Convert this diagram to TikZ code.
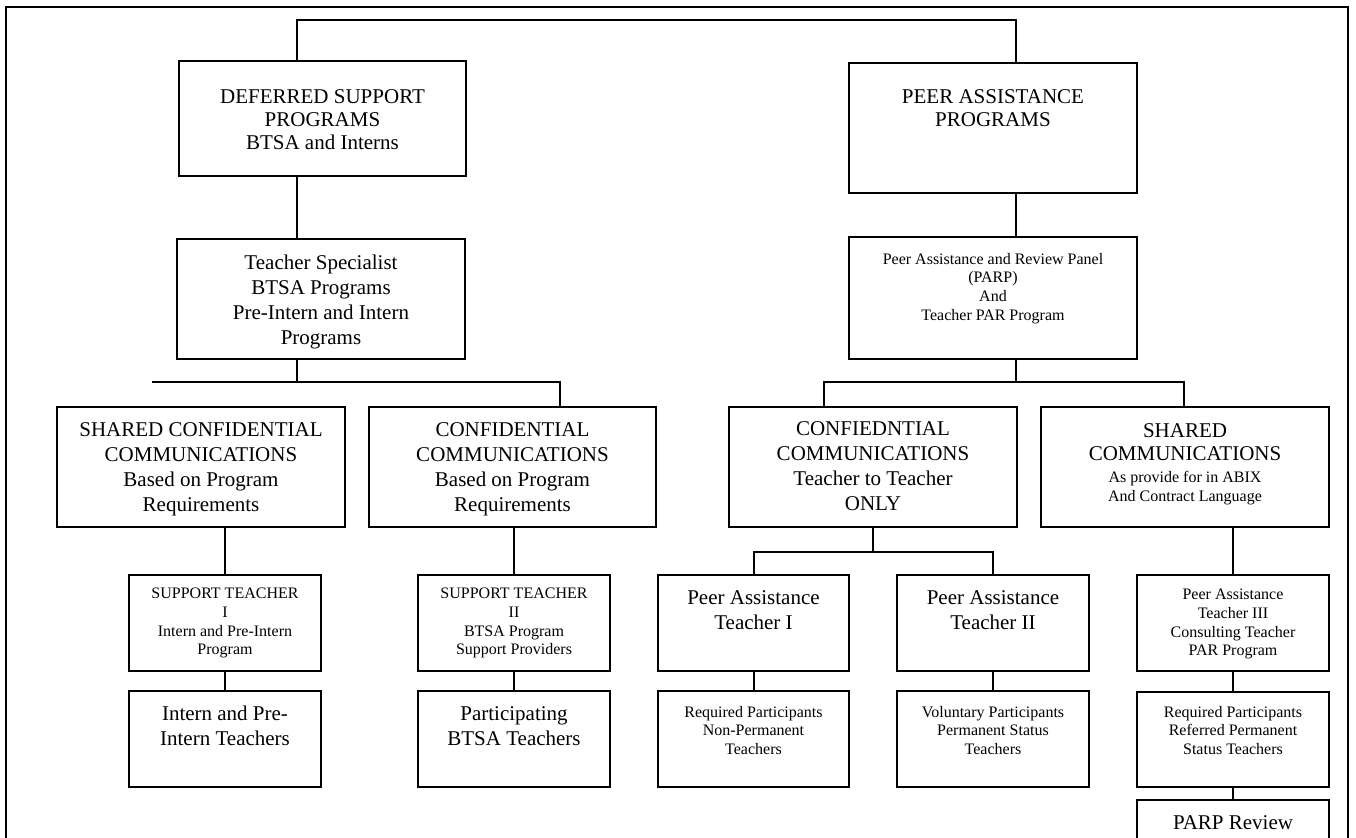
\documentclass[tikz,border=0pt]{standalone}
\usepackage{fontspec}
\setmainfont{Liberation Serif}
\usetikzlibrary{positioning}

\newcommand{\smalltext}{\fontsize{8pt}{9.4pt}\selectfont}

\begin{document}
\begin{tikzpicture}[
  x=0.5pt, y=-0.5pt,
  bigtext/.style={font=\fontsize{10.5pt}{12.5pt}\selectfont},
  headtext/.style={font=\fontsize{10.5pt}{11.5pt}\selectfont},
  smalltxt/.style={font=\smalltext},
  orgbox/.style={
    draw=black,
    line width=1pt,
    inner sep=0pt,
    anchor=north west,
    minimum width=144pt,
    minimum height=60pt
  },
  smallbox/.style={orgbox, minimum width=96pt, minimum height=48pt},
  caption/.style={align=center, inner sep=0pt},
  link/.style={draw=black, line width=1pt},
  frame/.style={draw=black, line width=1.1pt}
]

\useasboundingbox (0,0) rectangle (1356,837);
\clip (0,0) rectangle (1356,837);

\draw[frame] (6,900) |- (1348,7) -- (1348,900);

% top level
\node[orgbox, minimum width=143.5pt, minimum height=57.5pt] (deferred) at (178,60) {};
\node[caption, headtext, below=14.5pt of deferred.north] (deferred-txt)
  {DEFERRED SUPPORT\\PROGRAMS\\BTSA and Interns};

\node[orgbox, minimum height=65pt] (peer) at (848,62) {};
\node[caption, headtext, below=13.5pt of peer.north] (peer-txt)
  {PEER ASSISTANCE\\PROGRAMS};

% second level
\node[orgbox] (spec) at (176,238) {};
\node[caption, bigtext, below=8.5pt of spec.north] (spec-txt)
  {Teacher Specialist\\BTSA Programs\\Pre-Intern and Intern\\Programs};

\node[orgbox, minimum height=61pt] (parp) at (848,236) {};
\node[caption, smalltxt, below=8.25pt of parp.north] (parp-txt)
  {Peer Assistance and Review Panel\\(PARP)\\And\\Teacher PAR Program};

% communications
\node[orgbox] (share1) at (56,406) {};
\node[caption, bigtext, below=8pt of share1.north] (share1-txt)
  {SHARED CONFIDENTIAL\\COMMUNICATIONS\\Based on Program\\Requirements};

\node[orgbox, minimum width=143.5pt] (conf1) at (368,406) {};
\node[caption, bigtext, below=8pt of conf1.north] (conf1-txt)
  {CONFIDENTIAL\\COMMUNICATIONS\\Based on Program\\Requirements};

\node[orgbox] (conf2) at (728,406) {};
\node[caption, bigtext, below=7.5pt of conf2.north] (conf2-txt)
  {CONFIEDNTIAL\\COMMUNICATIONS\\Teacher to Teacher\\ONLY};

\node[orgbox] (share2) at (1040,406) {};
\node[caption, bigtext, below=8.5pt of share2.north] (share2-txt)
  {SHARED\\[-1pt]COMMUNICATIONS\\[-1.5pt]\smalltext As provide for in ABIX\\[-3pt]\smalltext And Contract Language};

% teachers
\node[smallbox] (st1) at (128,574) {};
\node[caption, smalltxt, below=6.75pt of st1.north] (st1-txt)
  {SUPPORT TEACHER\\I\\Intern and Pre-Intern\\Program};

\node[smallbox] (st2) at (417,574) {};
\node[caption, smalltxt, below=6.75pt of st2.north] (st2-txt)
  {SUPPORT TEACHER\\II\\BTSA Program\\Support Providers};

\node[smallbox, minimum width=95.5pt] (pa1) at (657,574) {};
\node[caption, bigtext, below=8pt of pa1.north] (pa1-txt)
  {Peer Assistance\\Teacher I};

\node[smallbox] (pa2) at (896,574) {};
\node[caption, bigtext, below=8pt of pa2.north] (pa2-txt)
  {Peer Assistance\\Teacher II};

\node[smallbox] (pa3) at (1136,574) {};
\node[caption, smalltxt, below=7.25pt of pa3.north] (pa3-txt)
  {Peer Assistance\\Teacher III\\Consulting Teacher\\PAR Program};

% participants
\node[smallbox] (intern) at (128,690) {};
\node[caption, bigtext, below=8pt of intern.north] (intern-txt)
  {Intern and Pre-\\Intern Teachers};

\node[smallbox] (btsa) at (417,690) {};
\node[caption, bigtext, below=8pt of btsa.north] (btsa-txt)
  {Participating\\BTSA Teachers};

\node[smallbox, minimum width=95.5pt] (req1) at (657,690) {};
\node[caption, smalltxt, below=7.75pt of req1.north] (req1-txt)
  {Required Participants\\Non-Permanent\\Teachers};

\node[smallbox] (vol) at (896,690) {};
\node[caption, smalltxt, below=7.75pt of vol.north] (vol-txt)
  {Voluntary Participants\\Permanent Status\\Teachers};

\node[smallbox, minimum height=47.5pt] (req3) at (1136,691) {};
\node[caption, smalltxt, below=7.25pt of req3.north] (req3-txt)
  {Required Participants\\Referred Permanent\\Status Teachers};

\node[smallbox] (review) at (1136,799) {};
\node[caption, bigtext, below=8pt of review.north] (review-txt)
  {PARP Review};

% junctions
\coordinate (spine) at (0,20);
\coordinate (ltrunk) at (297,0);
\coordinate (rtrunk) at (1016,0);
\coordinate (lbar-w) at (152,382);
\coordinate (lbar-e) at (560,382);
\coordinate (rbar-w) at (824,382);
\coordinate (rbar-e) at (1184,382);

\draw[link] (deferred.north -| ltrunk) -- (spine -| ltrunk) -- (spine -| rtrunk) -- (peer.north -| rtrunk);
\draw[link] (deferred.south -| ltrunk) -- (spec.north -| ltrunk);
\draw[link] (peer.south -| rtrunk) -- (parp.north -| rtrunk);

\draw[link] (spec.south -| ltrunk) -- (lbar-w -| ltrunk);
\draw[link] (lbar-w) -- (lbar-e) -- (conf1.north -| lbar-e);
\draw[link] (parp.south -| rtrunk) -- (rbar-w -| rtrunk);
\draw[link] (conf2.north -| rbar-w) -- (rbar-w) -- (rbar-e) -- (share2.north -| rbar-e);

\draw[link] (st1.north |- share1.south) -- (st1.north);
\draw[link] (st2.north |- conf1.south) -- (st2.north);
\draw[link] (conf2.south) -- ++(0,24) coordinate (cbar);
\draw[link] (pa1.north) |- (cbar) -| (pa2.north);
\draw[link] (pa3.north |- share2.south) -- (pa3.north);

\draw[link] (st1.south) -- (intern.north);
\draw[link] (st2.south) -- (btsa.north);
\draw[link] (pa1.south) -- (req1.north);
\draw[link] (pa2.south) -- (vol.north);
\draw[link] (pa3.south) -- (req3.north);
\draw[link] (req3.south) -- (review.north);

\end{tikzpicture}
\end{document}
